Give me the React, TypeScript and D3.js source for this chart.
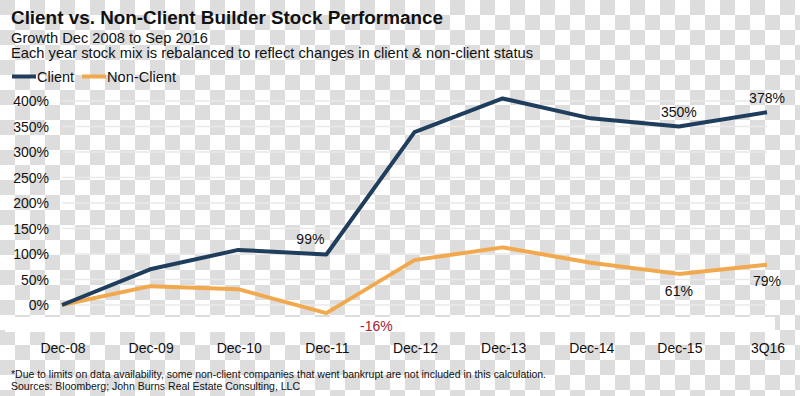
import React from "react";
import * as d3 from "d3";

const categories = ["Dec-08", "Dec-09", "Dec-10", "Dec-11", "Dec-12", "Dec-13", "Dec-14", "Dec-15", "3Q16"];
const clientValues = [0, 70, 108, 99, 339, 405, 366, 350, 378];
const nonClientValues = [0, 37, 31, -16, 88, 113, 83, 61, 79];
const yTicks = [0, 50, 100, 150, 200, 250, 300, 350, 400];

// value labels shown on the chart
const clientLabels = [
  { index: 3, text: "99%" },
  { index: 7, text: "350%" },
  { index: 8, text: "378%" },
];
const nonClientLabels = [
  { index: 3, text: "-16%" },
  { index: 7, text: "61%" },
  { index: 8, text: "79%" },
];

const width = 800;
const height = 396;
const font = "'Liberation Sans', Arial, sans-serif";
const clientColor = "#1f3d5c";
const nonClientColor = "#f2a94e";

export default function App() {
  const x = d3.scalePoint<string>().domain(categories).range([62, 767]);
  const y = d3.scaleLinear().domain([0, 400]).range([305, 101]);

  const line = d3
    .line<number>()
    .x((_, i) => x(categories[i]) as number)
    .y((d) => y(d));

  const labelOffset: Record<string, [number, number]> = {
    "99%": [-16, -10.5],
    "350%": [0, -9.5],
    "378%": [0, -9],
    "-16%": [50, 18],
    "61%": [0, 22],
    "79%": [0, 21],
  };

  return (
    <svg
      width={width}
      height={height}
      style={{ position: "absolute", left: 0, top: 0, display: "block" }}
      fontFamily={font}
    >
      <defs>
        <pattern id="checker" width={30} height={30} patternUnits="userSpaceOnUse">
          <rect width={30} height={30} fill="#ffffff" />
          <rect x={0} y={0} width={15} height={15} fill="#dddddd" />
          <rect x={15} y={15} width={15} height={15} fill="#dddddd" />
        </pattern>
      </defs>
      <rect width={width} height={height} fill="url(#checker)" />
      <rect x={5} y={317} width={770} height={15} fill="#ffffff" />

      {/* Titles */}
      <text x={11} y={24} fontSize={17.5} fontWeight="bold" fill="#111" textLength={432} lengthAdjust="spacingAndGlyphs">
        Client vs. Non-Client Builder Stock Performance
      </text>
      <text x={11} y={42.5} fontSize={14.5} fill="#111" textLength={197} lengthAdjust="spacingAndGlyphs">
        Growth Dec 2008 to Sep 2016
      </text>
      <text x={11} y={58} fontSize={14.5} fill="#111" textLength={522} lengthAdjust="spacingAndGlyphs">
        Each year stock mix is rebalanced to reflect changes in client &amp; non-client status
      </text>

      {/* Legend */}
      <line x1={12} x2={36} y1={76.5} y2={76.5} stroke={clientColor} strokeWidth={4} />
      <text x={37} y={81.5} fontSize={14.5} fill="#111" textLength={37} lengthAdjust="spacingAndGlyphs">
        Client
      </text>
      <line x1={82} x2={106} y1={76.5} y2={76.5} stroke={nonClientColor} strokeWidth={4} />
      <text x={107} y={81.5} fontSize={14.5} fill="#111" textLength={69} lengthAdjust="spacingAndGlyphs">
        Non-Client
      </text>

      {/* Gridlines and y axis */}
      {yTicks.map((t) => (
        <g key={t}>
          <line x1={62} x2={767} y1={y(t)} y2={y(t)} stroke="#e9e9e9" strokeWidth={1.5} />
          <text x={49} y={y(t)} dy="0.36em" textAnchor="end" fontSize={14} fill="#111">
            {t}%
          </text>
        </g>
      ))}

      {/* X axis labels */}
      {categories.map((c) => (
        <text key={c} x={(x(c) as number) + 1} y={353} textAnchor="middle" fontSize={14} fill="#111">
          {c}
        </text>
      ))}

      {/* Lines */}
      <path d={line(nonClientValues) || ""} fill="none" stroke={nonClientColor} strokeWidth={4} strokeLinejoin="round" />
      <path d={line(clientValues) || ""} fill="none" stroke={clientColor} strokeWidth={4} strokeLinejoin="round" />

      {/* Value labels */}
      {clientLabels.map((l) => {
        const [dx, dy] = labelOffset[l.text];
        return (
          <text key={l.text} x={(x(categories[l.index]) as number) + dx} y={y(clientValues[l.index]) + dy} textAnchor="middle" fontSize={14} fill="#111">
            {l.text}
          </text>
        );
      })}
      {nonClientLabels.map((l) => {
        const [dx, dy] = labelOffset[l.text];
        const v = nonClientValues[l.index];
        return (
          <text key={l.text} x={(x(categories[l.index]) as number) + dx} y={y(v) + dy} textAnchor="middle" fontSize={14} fill={v < 0 ? "#a8232f" : "#111"}>
            {l.text}
          </text>
        );
      })}

      {/* Footnotes */}
      <text x={11} y={378} fontSize={11} fill="#111" textLength={535} lengthAdjust="spacingAndGlyphs">
        *Due to limits on data availability, some non-client companies that went bankrupt are not included in this calculation.
      </text>
      <text x={11} y={389.5} fontSize={11} fill="#111" textLength={289} lengthAdjust="spacingAndGlyphs">
        Sources: Bloomberg; John Burns Real Estate Consulting, LLC
      </text>
    </svg>
  );
}
